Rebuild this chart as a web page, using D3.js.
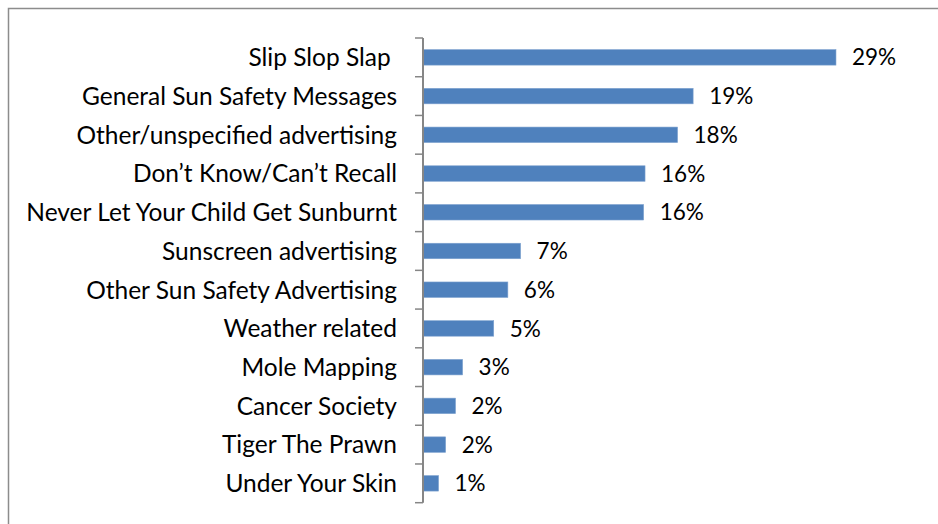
<!DOCTYPE html>
<html>
<head>
<meta charset="utf-8">
<script src="https://cdn.jsdelivr.net/npm/d3@7"></script>
<style>
  html, body { margin: 0; padding: 0; background: #fff; }
  svg { display: block; }
  text { font-family: Lato, "Open Sans", sans-serif; fill: #000; white-space: pre; }
</style>
</head>
<body>
<svg id="chart" width="938" height="524"></svg>
<script>
// Data
const categories = [
  "Slip Slop Slap ",
  "General Sun Safety Messages",
  "Other/unspecified advertising",
  "Don\u2019t Know/Can\u2019t Recall",
  "Never Let Your Child Get Sunburnt",
  "Sunscreen advertising",
  "Other Sun Safety Advertising",
  "Weather related",
  "Mole Mapping",
  "Cancer Society",
  "Tiger The Prawn",
  "Under Your Skin"
];
const values = [29.2, 19.1, 18.0, 15.7, 15.6, 6.9, 6.0, 5.0, 2.8, 2.3, 1.6, 1.1];
const valueLabels = ["29%", "19%", "18%", "16%", "16%", "7%", "6%", "5%", "3%", "2%", "2%", "1%"];
const axisMax = 35;

const svg = d3.select("#chart");
const W = 938, H = 524;

// chart border
svg.append("rect")
  .attr("x", 8.5).attr("y", 8.5)
  .attr("width", W + 20).attr("height", H + 20)
  .attr("fill", "#fff").attr("stroke", "#8c8c8c").attr("stroke-width", 1.5);

const plot = { left: 423, right: 918, top: 38, bottom: 502.7 };

const x = d3.scaleLinear().domain([0, axisMax]).range([plot.left, plot.right]);
const y = d3.scaleBand().domain(categories).range([plot.top, plot.bottom]).paddingInner(0.6).paddingOuter(0.3);

// bars
svg.append("g").selectAll("rect")
  .data(categories)
  .join("rect")
  .attr("x", x(0))
  .attr("y", d => y(d))
  .attr("width", (d, i) => x(values[i]) - x(0))
  .attr("height", y.bandwidth())
  .attr("fill", "#4f81bd")
  .attr("stroke", "#7ea2cf")
  .attr("stroke-width", 0.6);

// category axis
const yAxis = d3.axisLeft(y).tickSize(0).tickPadding(26).tickFormat(d => d);
const gy = svg.append("g").attr("transform", `translate(${plot.left},0)`).call(yAxis);
gy.select(".domain").remove();
gy.selectAll("text")
  .attr("font-size", 24.5)
  .attr("font-family", null)
  .attr("dy", "0.36em");

// axis line and tick marks between categories
const step = y.step();
const tickYs = d3.range(categories.length + 1).map(i => plot.top + i * step);
svg.append("line")
  .attr("x1", plot.left).attr("x2", plot.left)
  .attr("y1", plot.top).attr("y2", plot.bottom)
  .attr("stroke", "#868686").attr("stroke-width", 2);
svg.append("g").selectAll("line")
  .data(tickYs)
  .join("line")
  .attr("x1", plot.left - 8).attr("x2", plot.left)
  .attr("y1", d => d).attr("y2", d => d)
  .attr("stroke", "#868686").attr("stroke-width", 1.5);

// value labels
svg.append("g").selectAll("text")
  .data(categories)
  .join("text")
  .attr("x", (d, i) => x(values[i]) + 16)
  .attr("y", d => y(d) + y.bandwidth() / 2)
  .attr("dy", "0.36em")
  .attr("font-size", 22.5)
  .text((d, i) => valueLabels[i]);
</script>
</body>
</html>
